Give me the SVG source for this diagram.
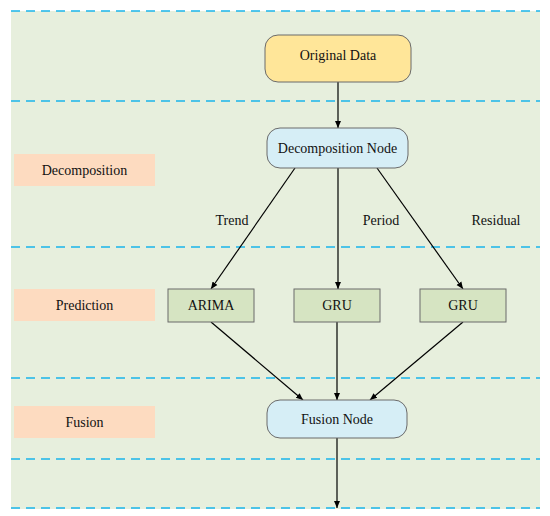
<svg xmlns="http://www.w3.org/2000/svg" width="550" height="516" viewBox="0 0 550 516">
<defs>
<marker id="ah" markerWidth="8" markerHeight="8" refX="7" refY="4" orient="auto" markerUnits="userSpaceOnUse">
<path d="M0,1 L7,4 L0,7 Z" fill="#000"/>
</marker>
<style>
text{font-family:"Liberation Serif","Times New Roman",serif;font-size:14px;fill:#111;text-anchor:middle;dominant-baseline:central}
.dash{stroke:#1BB5EA;stroke-width:1.6;stroke-dasharray:9 6;fill:none}
.lane{fill:#FDDBC0}
.round{stroke:#6b6b6b;stroke-width:1}
.model{fill:#D6E4C2;stroke:#6b6b6b;stroke-width:1}
.edge{stroke:#000;stroke-width:1.2;fill:none;marker-end:url(#ah)}
</style>
</defs>
<rect width="550" height="516" fill="#fff"/>
<rect x="11" y="11" width="529" height="498" fill="#E7EFDD"/>
<g id="dividers">
<line class="dash" x1="11" y1="11" x2="540" y2="11"/>
<line class="dash" x1="11" y1="101" x2="540" y2="101"/>
<line class="dash" x1="11" y1="247" x2="540" y2="247"/>
<line class="dash" x1="11" y1="378" x2="540" y2="378"/>
<line class="dash" x1="11" y1="459" x2="540" y2="459"/>
<line class="dash" x1="11" y1="508" x2="540" y2="508"/>
</g>
<g id="lane-decomposition"><rect class="lane" x="14" y="154" width="141" height="32"/><text x="84.5" y="170">Decomposition</text></g>
<g id="lane-prediction"><rect class="lane" x="14" y="289" width="141" height="32"/><text x="84.5" y="305">Prediction</text></g>
<g id="lane-fusion"><rect class="lane" x="14" y="406" width="141" height="32"/><text x="84.5" y="422">Fusion</text></g>
<g id="connectors">
<line class="edge" x1="338" y1="82" x2="338" y2="128"/>
<line class="edge" x1="295" y1="168" x2="211" y2="289"/>
<line class="edge" x1="338" y1="168" x2="338" y2="289"/>
<line class="edge" x1="377" y1="168" x2="463" y2="289"/>
<line class="edge" x1="211" y1="322" x2="303" y2="400"/>
<line class="edge" x1="337" y1="322" x2="337" y2="400"/>
<line class="edge" x1="463" y1="322" x2="370" y2="400"/>
<line class="edge" x1="337" y1="438" x2="337" y2="508"/>
<text x="232" y="220">Trend</text>
<text x="381" y="220">Period</text>
<text x="496" y="220">Residual</text>
</g>
<g id="original-data"><rect class="round" x="265" y="35" width="146" height="47" rx="13" fill="#FFE699"/><text x="338" y="55">Original Data</text></g>
<g id="decomposition-node"><rect class="round" x="267" y="128" width="141" height="40" rx="13" fill="#D6EEF6"/><text x="337.5" y="148">Decomposition Node</text></g>
<g id="arima"><rect class="model" x="168" y="289" width="86" height="33"/><text x="211" y="305.5">ARIMA</text></g>
<g id="gru1"><rect class="model" x="294" y="289" width="86" height="33"/><text x="337" y="305.5">GRU</text></g>
<g id="gru2"><rect class="model" x="420" y="289" width="86" height="33"/><text x="463" y="305.5">GRU</text></g>
<g id="fusion-node"><rect class="round" x="267" y="400" width="140" height="38" rx="13" fill="#D6EEF6"/><text x="337" y="419">Fusion Node</text></g>
</svg>
